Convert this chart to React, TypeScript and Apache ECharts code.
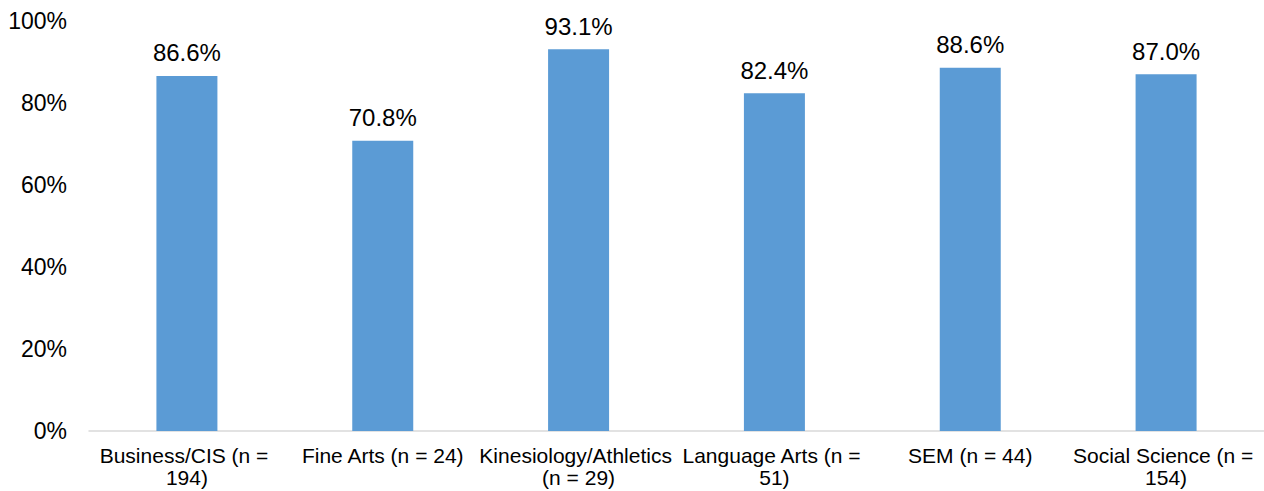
import React, { useEffect, useRef } from "react";
import * as echarts from "echarts";

const categories = [
  "Business/CIS (n = 194)",
  "Fine Arts (n = 24)",
  "Kinesiology/Athletics (n = 29)",
  "Language Arts (n = 51)",
  "SEM (n = 44)",
  "Social Science (n = 154)",
];
const values = [86.6, 70.8, 93.1, 82.4, 88.6, 87.0];
const yTicks = { min: 0, max: 100, interval: 20 };

export default function App() {
  const ref = useRef<HTMLDivElement>(null);
  useEffect(() => {
    document.body.style.margin = "0";
    const chart = echarts.init(ref.current!, null, { renderer: "svg" });
    const font = "Liberation Sans, Arial, sans-serif";
    chart.setOption({
      animation: false,
      grid: {
        left: 89,
        right: 0,
        top: 21,
        bottom: 60,
        containLabel: false,
        outerBoundsMode: "none",
      },
      xAxis: {
        type: "category",
        data: categories,
        axisLine: { show: true, lineStyle: { color: "#d9d9d9", width: 1.5 } },
        axisTick: { show: false },
        axisLabel: {
          interval: 0,
          color: "#000",
          fontFamily: font,
          fontSize: 21,
          lineHeight: 22,
          width: 205,
          overflow: "break",
          margin: 13,
        },
      },
      yAxis: {
        type: "value",
        min: yTicks.min,
        max: yTicks.max,
        interval: yTicks.interval,
        splitLine: { show: false },
        axisLine: { show: false },
        axisTick: { show: false },
        axisLabel: {
          formatter: "{value}%",
          color: "#000",
          fontFamily: font,
          fontSize: 23,
          margin: 22,
        },
      },
      series: [
        {
          type: "bar",
          data: values,
          barWidth: 61,
          itemStyle: { color: "#5B9BD5" },
          label: {
            show: true,
            position: "top",
            distance: 11,
            color: "#000",
            fontFamily: font,
            fontSize: 24,
            formatter: (p: any) => p.value.toFixed(1) + "%",
          },
        },
      ],
    });
    return () => chart.dispose();
  }, []);
  return <div ref={ref} style={{ width: 1264, height: 491 }} />;
}
